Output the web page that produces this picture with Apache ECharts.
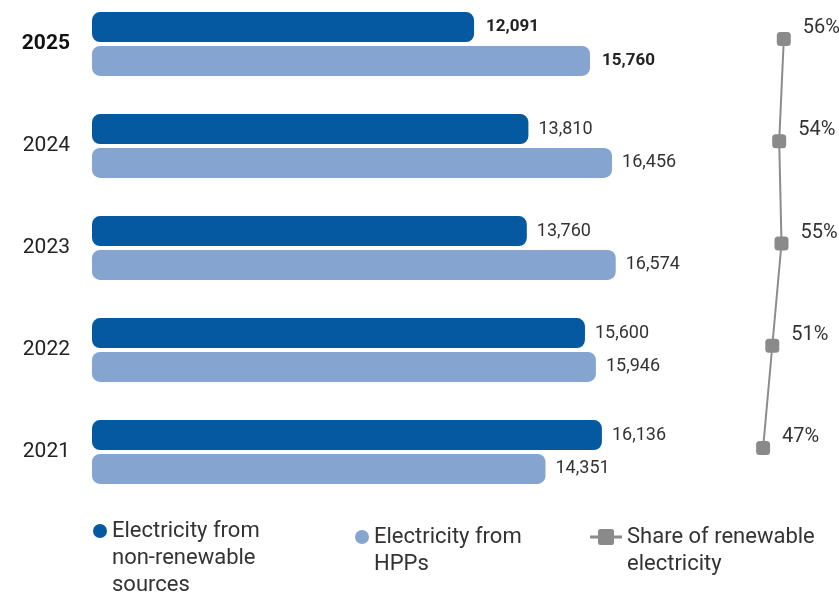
<!DOCTYPE html>
<html><head><meta charset="utf-8">
<script src="https://cdn.jsdelivr.net/npm/echarts@6/dist/echarts.min.js"></script>
<style>html,body{margin:0;padding:0;background:#fff}#c{width:839px;height:596px}</style>
</head><body><div id="c"></div>
<script>
const years = ['2025','2024','2023','2022','2021'];
const nonRenewable = [12091, 13810, 13760, 15600, 16136];
const hpp = [15760, 16456, 16574, 15946, 14351];
const share = [56, 54, 55, 51, 47];
const names = ['Electricity from\nnon-renewable\nsources', 'Electricity from\nHPPs', 'Share of renewable\nelectricity'];

const FONT = 'Roboto';
const fmt = v => v.toLocaleString('en-US');
const barLabel = {
  show: true, position: 'right', distance: 10, fontFamily: FONT, fontSize: 18, color: '#333',
  formatter: p => p.dataIndex === 0 ? '{b|' + fmt(p.value) + '}' : fmt(p.value),
  rich: { b: { fontWeight: 'bold', fontFamily: FONT, fontSize: 17, color: '#222', padding: [0, 0, 0, 2] } }
};
// blank lines before the name so the icon aligns with the first text line
const legendFmt = name => '\n'.repeat(name.split('\n').length - 1) + name;
const legendText = { fontSize: 22, lineHeight: 27, color: '#333', fontFamily: FONT };
const lineIcon = 'path://M0 6.5h8v-4a2.5 2.5 0 0 1 2.5-2.5h11a2.5 2.5 0 0 1 2.5 2.5v4h8v3h-8v4a2.5 2.5 0 0 1-2.5 2.5h-11a2.5 2.5 0 0 1-2.5-2.5v-4h-8z';
const chart = echarts.init(document.getElementById('c'));
chart.setOption({
  animation: false,
  textStyle: { fontFamily: FONT },
  grid: [
    { left: 92, right: 115, top: 44, bottom: 144 },
    { left: 747, right: 46, top: 39, bottom: 148 }
  ],
  xAxis: [
    { gridIndex: 0, type: 'value', min: 0, max: 20000, show: false },
    { gridIndex: 1, type: 'value', min: 40, max: 60, show: false }
  ],
  yAxis: [
    { gridIndex: 0, type: 'category', data: years, inverse: true, boundaryGap: false,
      axisLine: { show: false }, axisTick: { show: false },
      axisLabel: { margin: 22, fontSize: 21, color: '#222', fontFamily: FONT,
        formatter: (v, i) => i === 0 ? '{b|' + v + '}' : v,
        rich: { b: { fontWeight: 'bold', fontSize: 21, color: '#111', fontFamily: FONT } } } },
    { gridIndex: 1, type: 'category', data: years, inverse: true, boundaryGap: false, show: false }
  ],
  legend: [
    { data: [names[0]], left: 93, top: 463.5, padding: 0, itemWidth: 14, itemHeight: 14,
      icon: 'circle', formatter: legendFmt, textStyle: legendText },
    { data: [names[1]], left: 355, top: 496.5, padding: 0, itemWidth: 14, itemHeight: 14,
      icon: 'circle', formatter: legendFmt, textStyle: legendText },
    { data: [{ name: names[2], icon: lineIcon }], left: 590, top: 496.5, padding: 0, itemWidth: 32, itemHeight: 16,
      itemGap: 0, formatter: legendFmt, textStyle: legendText }
  ],
  series: [
    { name: names[0], type: 'bar', xAxisIndex: 0, yAxisIndex: 0, data: nonRenewable, clip: false,
      barWidth: 30, barGap: '13%', itemStyle: { color: '#0559a1', borderRadius: 8 }, label: barLabel },
    { name: names[1], type: 'bar', xAxisIndex: 0, yAxisIndex: 0, data: hpp, clip: false,
      barWidth: 30, barGap: '13%', itemStyle: { color: '#85a4d0', borderRadius: 8 }, label: barLabel },
    { name: names[2], type: 'line', xAxisIndex: 1, yAxisIndex: 1, data: share, clip: false,
      symbol: 'roundRect', symbolSize: 14, lineStyle: { color: '#8c8c8c', width: 2 },
      itemStyle: { color: '#8a8a8a' },
      label: { show: true, position: 'right', distance: 5, offset: [7, -11], fontSize: 20, color: '#333', fontFamily: FONT,
        formatter: p => p.value + '%' } }
  ]
});
</script></body></html>
